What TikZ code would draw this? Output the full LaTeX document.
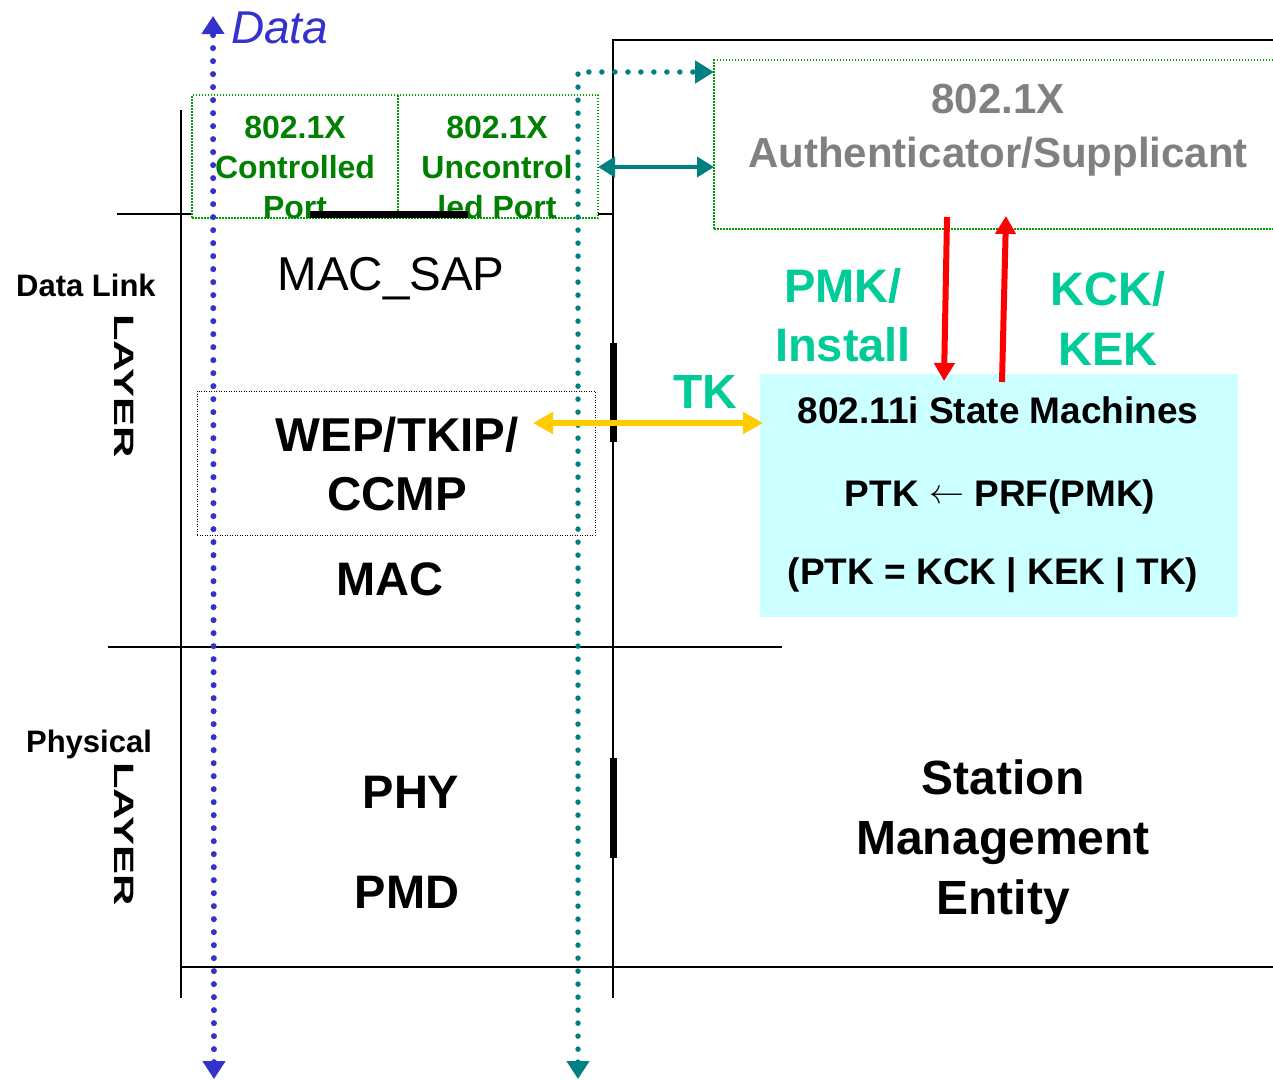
\documentclass[tikz,border=0pt]{standalone}
\usepackage{fontspec}
\setmainfont{Liberation Sans}
\usetikzlibrary{arrows.meta}
\definecolor{dblue}{HTML}{3333CC}
\definecolor{dteal}{HTML}{008080}
\definecolor{dgreen}{HTML}{008000}
\definecolor{bgreen}{HTML}{00A000}
\definecolor{dgray}{HTML}{808080}
\definecolor{lcyan}{HTML}{CCFFFF}
\definecolor{aqua}{HTML}{00CC99}
\definecolor{yel}{HTML}{FFCC00}
\definecolor{rred}{HTML}{FF0000}
\tikzset{
  txt/.style={inner sep=0pt, anchor=base, align=center},
  bigb/.style={txt, font=\fontsize{47}{59}\selectfont\bfseries},
  thinline/.style={line width=1.6pt, black},
  thickbar/.style={line width=7pt, black},
  bluedot/.style={dblue, line width=6pt, line cap=round, dash pattern=on 0pt off 13pt},
  tealdot/.style={dteal, line width=5.5pt, line cap=round, dash pattern=on 0pt off 13pt},
  gdots/.style={draw=bgreen, line width=1.2pt, dash pattern=on 1.5pt off 1.5pt},
  layertxt/.style={inner sep=0pt, rotate=-90, font=\fontsize{28}{28}\selectfont\bfseries},
}
\begin{document}
\begin{tikzpicture}[x=1pt,y=-1pt]
\useasboundingbox (0,0) rectangle (1273,1079);
\fill[white] (0,0) rectangle (1273,1079);

% frame lines
\coordinate (lt) at (181,110); \coordinate (lb) at (181,998);
\coordinate (mt) at (613,40);  \coordinate (mb) at (613,998);
\coordinate (rt) at (1273,40);
\draw[thinline] (lt) -- (lb);
\draw[thinline] (rt) -- (mt) -- (mb);
\coordinate (h1a) at (117,214); \coordinate (h1b) at (193,214);
\coordinate (h1c) at (598,214); \coordinate (h1d) at (613,214);
\draw[thinline] (h1a) -- (h1b) (h1c) -- (h1d);
\coordinate (h2a) at (108,647); \coordinate (h2b) at (782,647);
\draw[thinline] (h2a) -- (h2b);
\coordinate (h3a) at (181,967); \coordinate (h3b) at (1273,967);
\draw[thinline] (h3a) -- (h3b);

% port boxes
\node[gdots, inner sep=0pt, minimum width=406pt, minimum height=123pt] (ports) at (395,156.5) {};
\coordinate (pdt) at (398,95); \coordinate (pdb) at (398,218);
\draw[gdots] (pdt) -- (pdb);
\node[txt, text=dgreen, font=\fontsize{32}{40}\selectfont\bfseries] (cptxt) at (295,218) {802.1X\\Controlled\\Port};
\node[txt, text=dgreen, font=\fontsize{32}{40}\selectfont\bfseries] (uptxt) at (497,218) {802.1X\\Uncontrol\\led Port};
\coordinate (tb1) at (310,214); \coordinate (tb2) at (468,214);
\draw[thickbar] (tb1) -- (tb2);

% thick bars on middle line
\coordinate (v1a) at (613,343); \coordinate (v1b) at (613,442);
\coordinate (v2a) at (613,758); \coordinate (v2b) at (613,858);
\draw[thickbar] (v1a) -- (v1b) (v2a) -- (v2b);

% authenticator box
\node[gdots, inner sep=0pt, minimum width=570pt, minimum height=169pt] (auth) at (999,144.5) {};
\node[txt, text=dgray, font=\fontsize{42}{54}\selectfont\bfseries] (authtxt) at (998,167) {802.1X\\Authenticator/Supplicant};

% MAC area
\node[txt, font=\fontsize{47.5}{59}\selectfont] (macsap) at (391,290) {MAC\_SAP};
\node[draw=black, line width=1pt, dash pattern=on 1pt off 1.5pt, inner sep=0pt,
      minimum width=398pt, minimum height=144pt] (wepbox) at (396,463) {};
\node[bigb, font=\fontsize{47.5}{59}\selectfont\bfseries] (wep) at (397,510) {WEP/TKIP/\\CCMP};
\node[bigb] (mac) at (390,595) {MAC};
\node[bigb] (phy) at (411,808) {PHY};
\node[bigb] (pmd) at (407,908) {PMD};
\node[bigb, font=\fontsize{48}{60}\selectfont\bfseries] (sme) at (1003,914) {Station\\Management\\Entity};

% left labels
\node[txt, font=\fontsize{31}{31}\selectfont\bfseries] (dl) at (86,296) {Data Link};
\node[txt, font=\fontsize{31}{31}\selectfont\bfseries] (ph) at (89,752) {Physical};
\node[layertxt] (lay1) at (124,386) {\scalebox{1.55}[1]{LAYER}};
\node[layertxt] (lay2) at (124,834) {\scalebox{1.55}[1]{LAYER}};

% state machine box
\node[fill=lcyan, inner sep=0pt, minimum width=478pt, minimum height=243pt] (smbox) at (999,495.5) {};
\node[txt, font=\fontsize{37}{37}\selectfont\bfseries] (sm1) at (998,423) {802.11i State Machines};
\node[txt, font=\fontsize{37}{37}\selectfont\bfseries] (sm2) at (1000,506) {PTK \raisebox{3pt}{\resizebox{35pt}{!}{$\leftarrow$}} PRF(PMK)};
\node[txt, font=\fontsize{37}{37}\selectfont\bfseries] (sm3) at (993,584) {(PTK = KCK | KEK | TK)};

% key labels
\node[txt, text=aqua, font=\fontsize{47}{59}\selectfont\bfseries] (pmk) at (843,361) {PMK/\\Install};
\node[txt, text=aqua, font=\fontsize{47}{60}\selectfont\bfseries] (kck) at (1108,365) {KCK/\\KEK};
\node[txt, text=aqua, font=\fontsize{48}{48}\selectfont\bfseries] (tk) at (705,408) {TK};

% Data label
\node[txt, anchor=base west, text=dblue, font=\fontsize{46}{46}\selectfont\itshape] (data) at (231,43) {Data};

% blue dotted arrow
\coordinate (bB) at (214,1079); \coordinate (bT) at (213,16);
\draw[bluedot, {Triangle[width=22pt,length=18pt]}-{Triangle[width=22pt,length=18pt]}] (bB) -- (bT);

% teal dotted arrow
\coordinate (tB) at (578,1079); \coordinate (tR) at (714,72);
\draw[tealdot, {Triangle[width=22pt,length=18pt]}-{Triangle[width=22pt,length=19pt]}] (tB) |- (tR);

% teal solid double arrow
\coordinate (ta) at (598,167); \coordinate (tb) at (714,167);
\draw[dteal, line width=4pt, {Triangle[width=20pt,length=17pt]}-{Triangle[width=20pt,length=17pt]}] (ta) -- (tb);

% yellow double arrow
\coordinate (ya) at (533,423); \coordinate (yb) at (763,423);
\draw[yel, line width=6pt, {Triangle[width=21pt,length=20pt]}-{Triangle[width=21pt,length=20pt]}] (ya) -- (yb);

% red arrows
\coordinate (rd1) at (947,217); \coordinate (rd2) at (944,381);
\draw[rred, line width=6pt, -{Triangle[width=20pt,length=18pt]}] (rd1) -- (rd2);
\coordinate (ru1) at (1002,382); \coordinate (ru2) at (1006,216);
\draw[rred, line width=6pt, -{Triangle[width=20pt,length=18pt]}] (ru1) -- (ru2);
\end{tikzpicture}
\end{document}
